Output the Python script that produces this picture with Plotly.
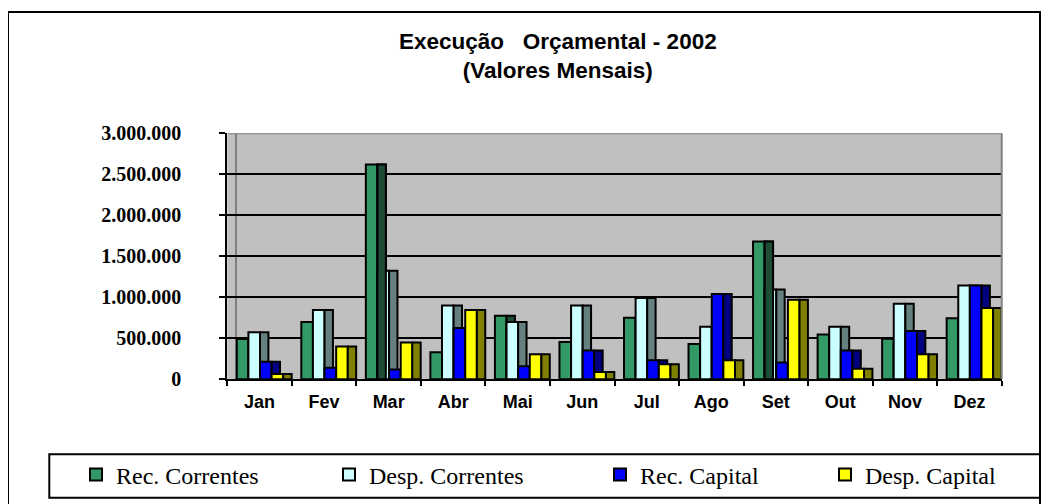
import plotly.graph_objects as go

# Dados (valores mensais, 2002)
meses = ["Jan", "Fev", "Mar", "Abr", "Mai", "Jun", "Jul", "Ago", "Set", "Out", "Nov", "Dez"]
rec_correntes = [490000, 700000, 2620000, 330000, 775000, 455000, 750000, 430000, 1680000, 545000, 495000, 745000]
desp_correntes = [575000, 846000, 1325000, 900000, 700000, 900000, 990000, 640000, 1095000, 640000, 920000, 1145000]
rec_capital = [215000, 140000, 120000, 625000, 160000, 350000, 232000, 1040000, 205000, 350000, 590000, 1145000]
desp_capital = [65000, 400000, 450000, 846000, 305000, 90000, 184000, 232000, 970000, 130000, 305000, 870000]

nomes = ["Rec. Correntes", "Desp. Correntes", "Rec. Capital", "Desp. Capital"]
cores_frente = ["#339966", "#CCFFFF", "#0000FF", "#FFFF00"]
cores_lado = ["#1E4D35", "#668080", "#000080", "#808000"]
larg_legenda = [208, 226, 180, 180]

W, H = 1050, 504
DESVIO = 8  # margem do <body> da página


def px_x(v):
    return (v - DESVIO) / W


def px_y(v):
    return 1 - (v - DESVIO) / H


# geometria das barras "3D" (frente + lado), em unidades de categoria
FRENTE = 0.180
LADO = 0.130
INICIO = -0.353

fig = go.Figure()


def barra(valores, nome, cor, offset, largura, legenda, lw=None):
    fig.add_trace(go.Bar(
        x=meses, y=valores, name=nome,
        offset=offset, width=largura,
        marker=dict(color=cor, line=dict(color="black", width=2)),
        showlegend=legenda, legendwidth=lw,
        hoverinfo="skip" if not legenda else None,
    ))


series = [rec_correntes, desp_correntes, rec_capital, desp_capital]
for k, (vals, nome) in enumerate(zip(series, nomes)):
    off = INICIO + FRENTE * k
    barra(vals, nome, cores_frente[k], off, FRENTE, True, larg_legenda[k])
    barra(vals, nome, cores_lado[k], off + FRENTE, LADO, False)
    if k == 1:
        # o lado das barras verdes muito altas fica por cima da frente seguinte
        sobre = [g if g > 1.5 * c else None for g, c in zip(rec_correntes, desp_correntes)]
        barra(sobre, nomes[0], cores_lado[0], INICIO + FRENTE, LADO, False)

# reordenar: lados desenhados logo após a frente da série seguinte
fig.data = tuple(fig.data[i] for i in [0, 1, 2, 4, 3, 5, 6, 7, 8])

shapes = [
    # moldura exterior
    dict(type="rect", xref="paper", yref="paper",
         x0=px_x(8), x1=px_x(1040), y0=px_y(530), y1=px_y(12),
         line=dict(color="black", width=2)),
    # caixa da legenda
    dict(type="rect", xref="paper", yref="paper",
         x0=px_x(49.3), x1=px_x(1040), y0=px_y(497.7), y1=px_y(454.3),
         line=dict(color="black", width=2), fillcolor="white", layer="below"),
    # arestas cinzentas da parede
    dict(type="line", xref="paper", yref="y", x0=px_x(236), x1=px_x(236), y0=0, y1=3000000,
         line=dict(color="#808080", width=2), layer="between"),
    dict(type="line", xref="paper", yref="y", x0=px_x(228), x1=px_x(1001.7), y0=3000000, y1=3000000,
         line=dict(color="#808080", width=2), layer="above"),
    dict(type="line", xref="paper", yref="y", x0=px_x(1001.7), x1=px_x(1001.7), y0=0, y1=3000000,
         line=dict(color="#808080", width=2), layer="above"),
]

fig.add_annotation(
    text="Execução\u00a0\u00a0\u00a0Orçamental - 2002<br>(Valores Mensais)",
    xref="paper", yref="paper", x=px_x(558), y=px_y(27),
    xanchor="center", yanchor="top", showarrow=False,
    font=dict(family="Liberation Sans, Arial", size=22.5, color="black", weight="bold"),
)

fig.update_layout(
    width=W, height=H,
    margin=dict(l=0, r=0, t=0, b=0, autoexpand=False),
    paper_bgcolor="white",
    plot_bgcolor="#C0C0C0",
    barmode="overlay",
    separators=",.",
    shapes=shapes,
    showlegend=True,
    legend=dict(
        orientation="h", x=px_x(76), y=px_y(475),
        xanchor="left", yanchor="middle",
        traceorder="normal",
        bgcolor="rgba(0,0,0,0)", borderwidth=0,
        font=dict(family="Liberation Serif, Times New Roman", size=24, color="black"),
    ),
    xaxis=dict(
        domain=[px_x(227.3), px_x(1001.7)],
        type="category", range=[-0.5, 11.5],
        tickson="boundaries", ticks="outside", ticklen=5, tickwidth=2, tickcolor="black",
        showline=True, linecolor="black", linewidth=2,
        showgrid=False, ticklabelstandoff=5,
        tickfont=dict(family="Liberation Sans, Arial", size=18, color="black", weight="bold"),
    ),
    yaxis=dict(
        domain=[px_y(379.3), px_y(133.3)],
        range=[0, 3000000], dtick=500000, tickformat=",d",
        ticks="outside", ticklen=6, tickwidth=2, tickcolor="black",
        showline=True, linecolor="black", linewidth=2,
        showgrid=True, gridcolor="black", gridwidth=2, zeroline=False,
        ticklabelstandoff=34,
        tickfont=dict(family="Liberation Serif, Times New Roman", size=20, color="black", weight="bold"),
    ),
)

fig.write_html("out.html")
